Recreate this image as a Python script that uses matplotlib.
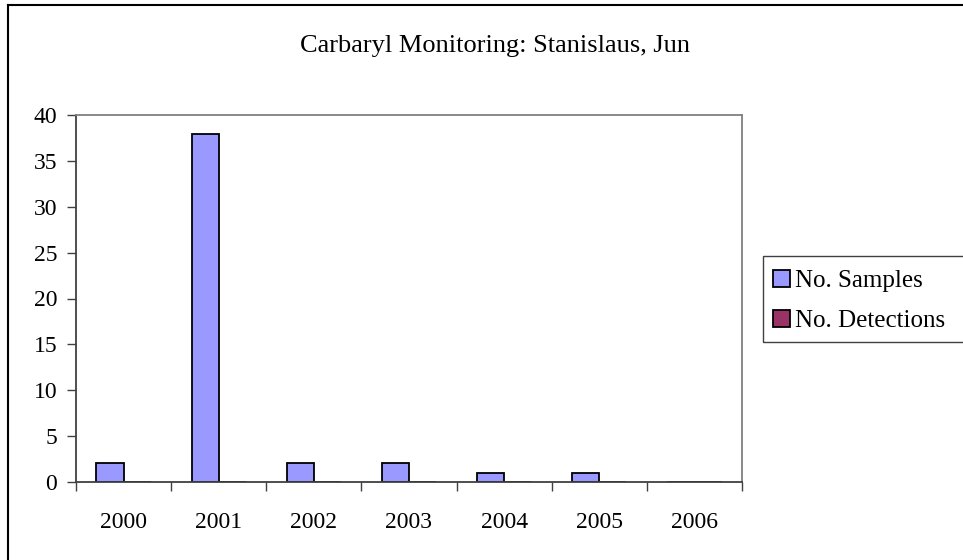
import numpy as np
import matplotlib
matplotlib.use("Agg")
import matplotlib.pyplot as plt
from matplotlib.lines import Line2D
from matplotlib.patches import Rectangle

# Data
years = ['2000', '2001', '2002', '2003', '2004', '2005', '2006']
samples = [2, 38, 2, 2, 1, 1, 0]
detections = [0, 0, 0, 0, 0, 0, 0]

plt.rcParams['font.family'] = ['Liberation Serif', 'DejaVu Serif']
FS = 17

fig = plt.figure(figsize=(9.63, 5.6), dpi=100)
W, H = 963, 560

# plot area, in pixels
left, right, top, bottom = 76, 742, 115.3, 481.7
ax = fig.add_axes([left / W, 1 - bottom / H, (right - left) / W, (bottom - top) / H])

x = np.arange(len(years)) + 0.5
w = 0.2857
ax.bar(x - w, samples, width=w, align='edge', color='#9999FF',
       edgecolor='black', linewidth=1.3, label='No. Samples')
ax.bar(x, detections, width=w, align='edge', color='#993366',
       edgecolor='black', linewidth=1.3, label='No. Detections')

ax.set_xlim(0, len(years))
ax.set_ylim(0, 40)
ax.set_yticks(range(0, 41, 5))
ax.tick_params(axis='y', labelsize=FS, length=6.5, width=1, color='#404040', pad=7)

# x ticks sit between categories, labels at category centres
ax.set_xticks(np.arange(len(years) + 1))
ax.set_xticklabels([])
ax.set_xticks(x, minor=True)
ax.set_xticklabels(years, minor=True, fontsize=FS)
ax.tick_params(axis='x', which='major', length=6.5, width=1, color='#404040')
ax.tick_params(axis='x', which='minor', length=0, pad=22)

for s in ['left', 'bottom']:
    ax.spines[s].set_color('#404040')
    ax.spines[s].set_linewidth(1.3)
for s in ['top', 'right']:
    ax.spines[s].set_color('#808080')
    ax.spines[s].set_linewidth(1.3)

fig.text(495 / W, 1 - 51.7 / H, 'Carbaryl Monitoring: Stanislaus, Jun',
         ha='center', va='baseline', fontsize=19)

# legend box runs past the right edge, so draw the frame by hand
fig.add_artist(Rectangle((763.3 / W, 1 - 341.7 / H), 240 / W, 86 / H,
                         transform=fig.transFigure, fill=False,
                         edgecolor='#404040', lw=1.0))
fig.legend(loc='upper left', bbox_to_anchor=(773 / W, 1 - 270 / H),
           fontsize=18, frameon=False,
           handlelength=0.68, handleheight=0.68, handletextpad=0.2,
           borderpad=0, labelspacing=0.7, borderaxespad=0)

# outer chart border (runs off the right and bottom edges)
fig.add_artist(Line2D([7.5 / W, 7.5 / W], [1 - 5 / H, 0], color='black', lw=1.5))
fig.add_artist(Line2D([7.5 / W, 1], [1 - 5 / H, 1 - 5 / H], color='black', lw=1.5))

fig.savefig('out.png', dpi=100)
